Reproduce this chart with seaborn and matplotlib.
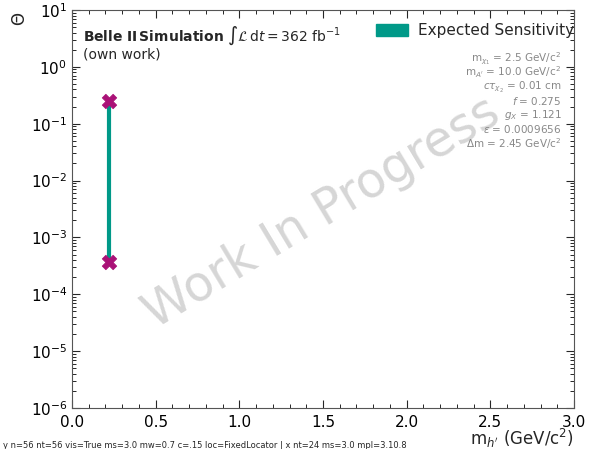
import numpy as np
import pandas as pd
import matplotlib
matplotlib.use("Agg")
import matplotlib.pyplot as plt
import seaborn as sns
from matplotlib.patches import Patch
from matplotlib.ticker import FixedLocator

sns.set_style("ticks")
plt.rcParams['font.family'] = ['DejaVu Sans']
plt.rcParams['mathtext.fontset'] = 'dejavusans'
plt.rcParams.update({
    'xtick.direction': 'in', 'ytick.direction': 'in',
    'xtick.top': True, 'ytick.right': True,
    'xtick.major.size': 6, 'ytick.major.size': 6,
    'xtick.minor.size': 3, 'ytick.minor.size': 3,
    'xtick.minor.width': 0.7, 'ytick.minor.width': 0.7,
    'xtick.labelsize': 11, 'ytick.labelsize': 11,
    'xtick.labelcolor': 'black', 'ytick.labelcolor': 'black',
    'axes.edgecolor': '#555555',
})

# Data
mass = [0.22]
upper = [0.25]
lower = [3.7e-4]
params = [r"m$_{\chi_1}$ = 2.5 GeV/c$^2$",
          r"m$_{A'}$ = 10.0 GeV/c$^2$",
          r"$c\tau_{\chi_2}$ = 0.01 cm",
          r"$f$ = 0.275",
          r"$g_{X}$ = 1.121",
          r"$\epsilon$ = 0.0009656",
          r"$\Delta$m = 2.45 GeV/c$^2$"]

teal = "#009988"
magenta = "#aa1177"

df = pd.DataFrame({"mass": mass * 2, "theta": upper + lower,
                   "grp": list(range(len(mass))) * 2})

fig = plt.figure(figsize=(5.9, 4.49), dpi=100)
ax = fig.add_axes([72/590, 1 - 408/449, (574-72)/590, (408-10)/449])

sns.lineplot(data=df, x="mass", y="theta", units="grp", estimator=None,
             sort=False, color=teal, lw=3, ax=ax)
sns.scatterplot(data=df, x="mass", y="theta", marker="X", s=110,
                color=magenta, edgecolor=magenta, linewidth=0.5, zorder=5, ax=ax)

ax.set_yscale("log")
ax.set_xlim(0, 3)
ax.set_ylim(1e-6, 1e1)
yminor = [m * 10.0**e for e in range(-6, 1) for m in range(2, 10)]
ax.yaxis.set_minor_locator(FixedLocator(yminor))
xminor = [i * 0.1 for i in range(31) if i % 5]
ax.xaxis.set_minor_locator(FixedLocator(xminor))
ax.tick_params(which="both", direction="in", top=True, right=True)
ax.tick_params(axis="x", which="major", pad=5)

ax.set_xlabel(r"m$_{h'}$ (GeV/c$^2$)", fontsize=12, loc="right")
ax.xaxis.set_label_coords(1.0, -0.048)
ax.set_ylabel(r"$\Theta$", fontsize=12, loc="top")
ax.yaxis.set_label_coords(-0.086, 0.995)

ax.text(0.022, 0.962, r"$\bf{Belle\ II}\,\bf{Simulation}$ $\int\mathcal{L}\,\mathrm{d}t = 362\ \mathrm{fb}^{-1}$",
        transform=ax.transAxes, fontsize=10, va="top", ha="left")
ax.text(0.022, 0.905, "(own work)", transform=ax.transAxes, fontsize=10, va="top", ha="left")

leg = ax.legend(handles=[Patch(color=teal, label="Expected Sensitivity")],
                loc="upper right", frameon=False, fontsize=11,
                bbox_to_anchor=(1.022, 0.993), handlelength=2.1, handleheight=0.85,
                handletextpad=0.65, borderaxespad=0.3)

y0 = 0.878
for i, p in enumerate(params):
    ax.text(0.975, y0 - i * 0.0355, p, transform=ax.transAxes, fontsize=7.5,
            color="#888888", ha="right", va="center")

ax.text(0.498, 0.49, "Work In Progress", transform=ax.transAxes, fontsize=35,
        color="#d6d6d6", rotation=31, ha="center", va="center", zorder=0)

fig.canvas.draw()
t = ax.yaxis.get_minor_ticks()
tx = ax.xaxis.get_minor_ticks()
dbg = (f"y n={len(ax.yaxis.get_minorticklocs())} nt={len(t)} vis={t[0].tick1line.get_visible()} "
       f"ms={t[0].tick1line.get_markersize()} mw={t[0].tick1line.get_markeredgewidth()} "
       f"c={t[0].tick1line.get_color()} loc={type(ax.yaxis.get_minor_locator()).__name__} "
       f"| x nt={len(tx)} ms={tx[0].tick1line.get_markersize()} mpl={matplotlib.__version__}")
fig.text(0.005, 0.003, dbg, fontsize=6)
fig.savefig("out.png", dpi=100)
